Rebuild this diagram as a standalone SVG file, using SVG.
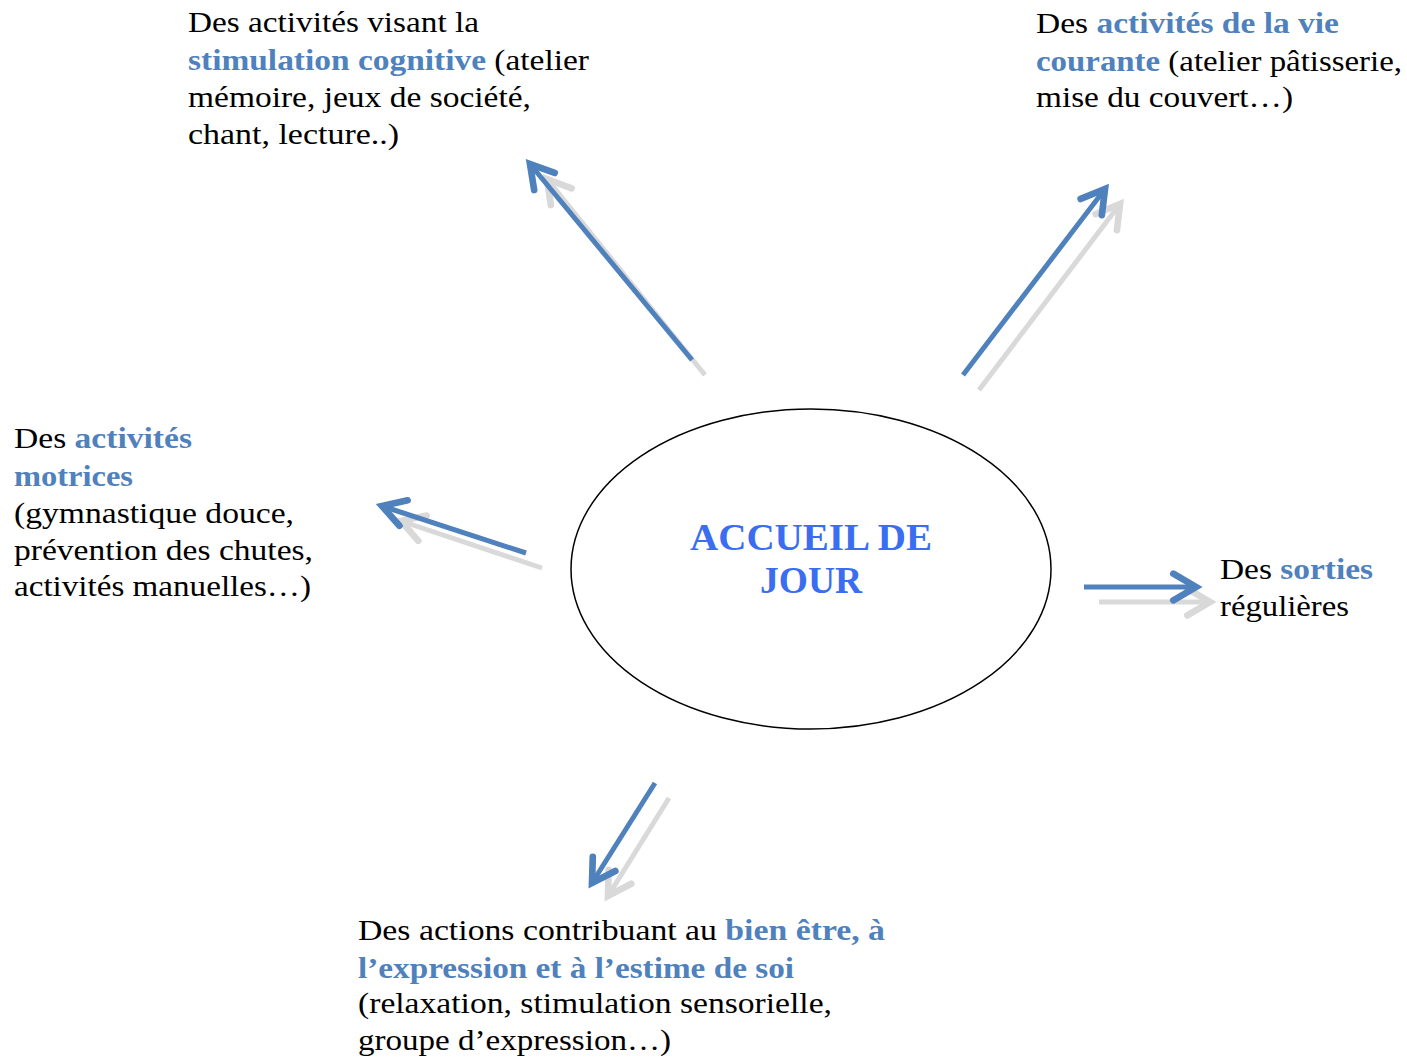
<svg xmlns="http://www.w3.org/2000/svg" width="1407" height="1059" viewBox="0 0 1407 1059">
<style>
.t{font-family:"Liberation Serif","Times New Roman",serif;font-size:30px;fill:#000}
.b{font-weight:bold;fill:#4F81BD}
.c{font-family:"Liberation Serif","Times New Roman",serif;font-size:38px;font-weight:bold;fill:#3A6DF0}
.sh{stroke:#D9D9D9;stroke-width:5;fill:none;marker-end:url(#mg)}
.ar{stroke:#4F81BD;stroke-width:5;fill:none;marker-end:url(#mb)}
</style>
<defs>
<marker id="mb" markerUnits="userSpaceOnUse" markerWidth="40" markerHeight="40" refX="0" refY="0" viewBox="-25 -15 30 30" orient="auto" overflow="visible">
<path d="M-17,-10 L0,0 L-17,10" fill="none" stroke="#4F81BD" stroke-width="5" stroke-linejoin="miter" stroke-linecap="round"/>
</marker>
<marker id="mg" markerUnits="userSpaceOnUse" markerWidth="40" markerHeight="40" refX="0" refY="0" viewBox="-25 -15 30 30" orient="auto" overflow="visible">
<path d="M-17,-10 L0,0 L-17,10" fill="none" stroke="#D9D9D9" stroke-width="5" stroke-linejoin="miter" stroke-linecap="round"/>
</marker>
</defs>
<rect width="1407" height="1059" fill="#fff"/>
<g id="connectors">
<line class="sh" x1="705" y1="375" x2="547" y2="179"/>
<line class="ar" x1="692" y1="360" x2="530" y2="164"/>
<line class="sh" x1="979" y1="390" x2="1120" y2="204"/>
<line class="ar" x1="963" y1="375" x2="1105" y2="189"/>
<line class="sh" x1="542" y1="568" x2="401" y2="521"/>
<line class="ar" x1="526" y1="553" x2="382" y2="506"/>
<line class="sh" x1="1099" y1="602" x2="1210" y2="602"/>
<line class="ar" x1="1084" y1="587" x2="1196" y2="587"/>
<line class="sh" x1="669" y1="798" x2="608" y2="896"/>
<line class="ar" x1="655" y1="783" x2="592" y2="883"/>
</g>
<g id="center">
<ellipse cx="811" cy="569" rx="240" ry="160" fill="none" stroke="#000" stroke-width="1.5"/>
<text class="c" x="811" y="550" text-anchor="middle" textLength="242" lengthAdjust="spacingAndGlyphs">ACCUEIL DE</text>
<text class="c" x="811" y="593" text-anchor="middle" textLength="102" lengthAdjust="spacingAndGlyphs">JOUR</text>
</g>
<g id="cognitive">
<text class="t" x="188" y="32" textLength="291" lengthAdjust="spacingAndGlyphs">Des activités visant la</text>
<text class="t" x="188" y="70" textLength="401" lengthAdjust="spacingAndGlyphs"><tspan class="b">stimulation cognitive</tspan> (atelier</text>
<text class="t" x="188" y="107" textLength="343" lengthAdjust="spacingAndGlyphs">mémoire, jeux de société,</text>
<text class="t" x="188" y="144" textLength="211" lengthAdjust="spacingAndGlyphs">chant, lecture..)</text>
</g>
<g id="vie-courante">
<text class="t" x="1036" y="33" textLength="303" lengthAdjust="spacingAndGlyphs">Des <tspan class="b">activités de la vie</tspan></text>
<text class="t" x="1036" y="71" textLength="366" lengthAdjust="spacingAndGlyphs"><tspan class="b">courante</tspan> (atelier pâtisserie,</text>
<text class="t" x="1036" y="107" textLength="257" lengthAdjust="spacingAndGlyphs">mise du couvert…)</text>
</g>
<g id="motrices">
<text class="t" x="14" y="448" textLength="178" lengthAdjust="spacingAndGlyphs">Des <tspan class="b">activités</tspan></text>
<text class="t" x="14" y="486" textLength="119" lengthAdjust="spacingAndGlyphs"><tspan class="b">motrices</tspan></text>
<text class="t" x="14" y="523" textLength="280" lengthAdjust="spacingAndGlyphs">(gymnastique douce,</text>
<text class="t" x="14" y="560" textLength="299" lengthAdjust="spacingAndGlyphs">prévention des chutes,</text>
<text class="t" x="14" y="596" textLength="297" lengthAdjust="spacingAndGlyphs">activités manuelles…)</text>
</g>
<g id="sorties">
<text class="t" x="1220" y="579" textLength="153" lengthAdjust="spacingAndGlyphs">Des <tspan class="b">sorties</tspan></text>
<text class="t" x="1220" y="616" textLength="129" lengthAdjust="spacingAndGlyphs">régulières</text>
</g>
<g id="bien-etre">
<text class="t" x="358" y="940" textLength="527" lengthAdjust="spacingAndGlyphs">Des actions contribuant au <tspan class="b">bien être, à</tspan></text>
<text class="t" x="358" y="978" textLength="436" lengthAdjust="spacingAndGlyphs"><tspan class="b">l’expression et à l’estime de soi</tspan></text>
<text class="t" x="358" y="1013" textLength="474" lengthAdjust="spacingAndGlyphs">(relaxation, stimulation sensorielle,</text>
<text class="t" x="358" y="1050" textLength="313" lengthAdjust="spacingAndGlyphs">groupe d’expression…)</text>
</g>
</svg>
